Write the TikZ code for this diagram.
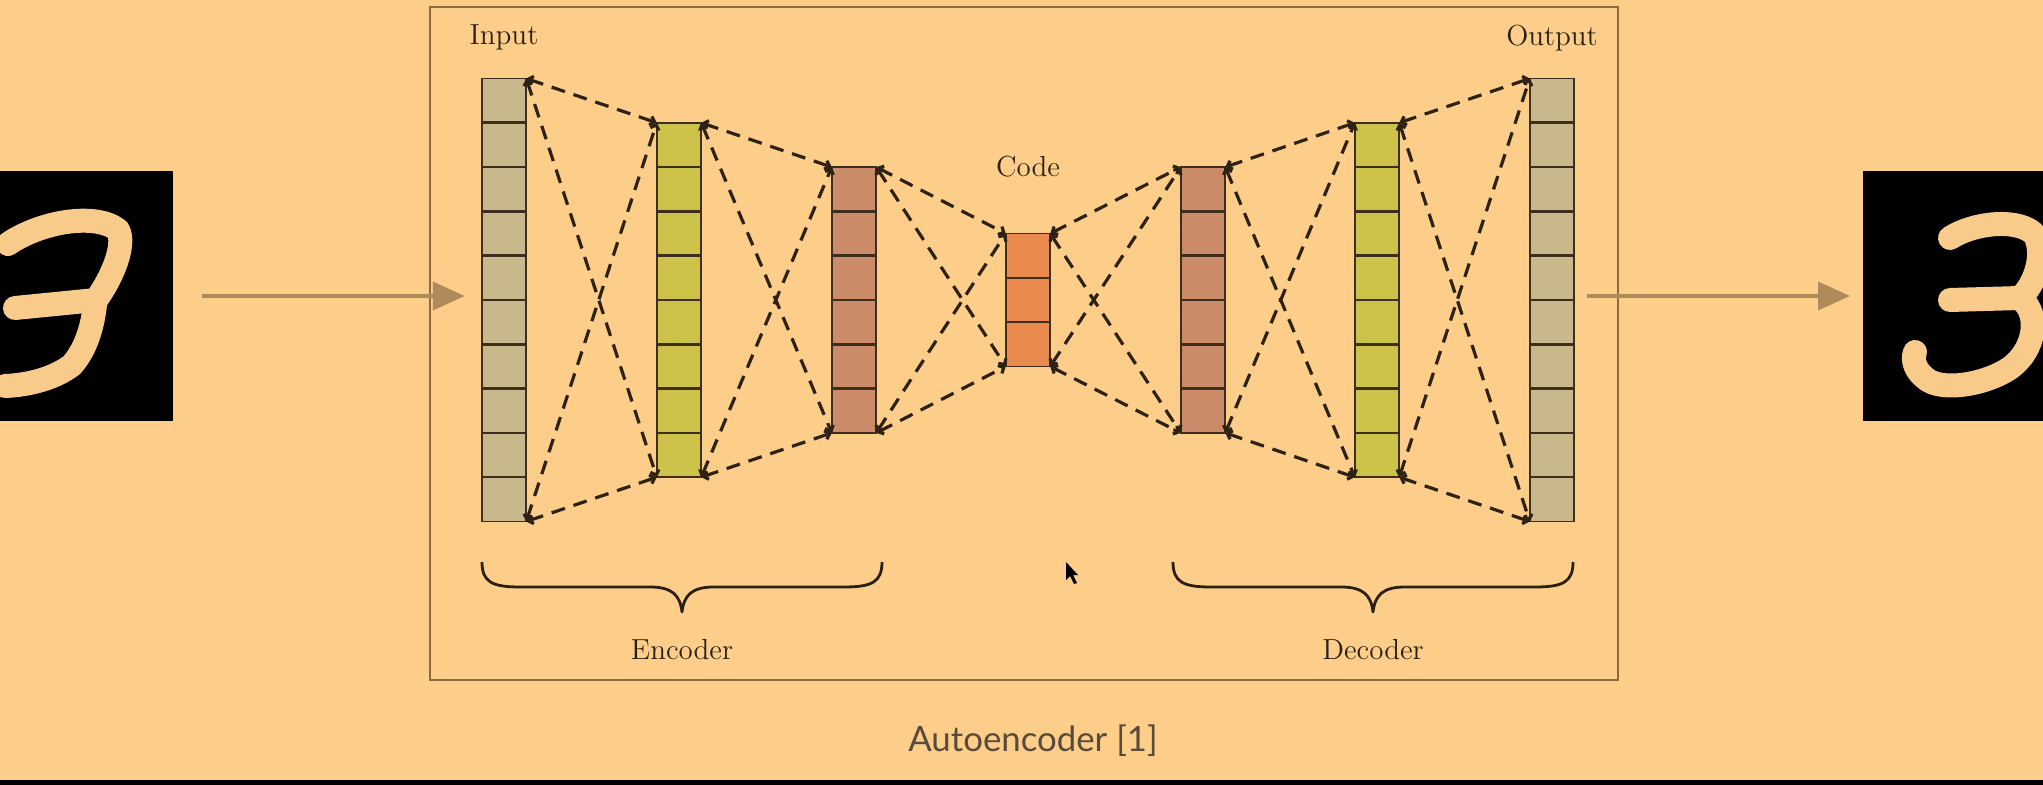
\documentclass[tikz,border=0pt]{standalone}
\usepackage{fontspec}
\newfontfamily\capfont{Lato}
\usetikzlibrary{arrows.meta,calc}
\definecolor{bgpeach}{HTML}{FDCE89}
\definecolor{framecol}{HTML}{8C6B3E}
\definecolor{cellio}{HTML}{C8B88C}
\definecolor{cellgreen}{HTML}{CCC24A}
\definecolor{cellbrown}{HTML}{CC8B68}
\definecolor{cellcode}{HTML}{EB8A4E}
\definecolor{cellline}{HTML}{3E2E1E}
\definecolor{linkcol}{HTML}{2E2216}
\definecolor{textcol}{HTML}{2A2015}
\definecolor{captcol}{HTML}{5A4A3A}
\definecolor{flowcol}{HTML}{B08A5A}
\definecolor{digitcol}{HTML}{F8CB8A}
\begin{document}
\begin{tikzpicture}[x=0.5pt,y=-0.5pt,
  layer/.style={draw=cellline, line width=0.9pt, minimum width=22.25pt,
    inner sep=0pt, outer sep=0pt},
  divider/.style={draw=cellline, line width=1.3pt},
  conn/.style={draw=linkcol, line width=1.6pt, dash pattern=on 7pt off 4.5pt,
    {Straight Barb[length=2.2pt,width=4.5pt]}-{Straight Barb[length=2.2pt,width=4.5pt]}},
  flow/.style={draw=flowcol, line width=2pt, -{Triangle[length=16pt,width=14pt]}},
  imgbox/.style={fill=black, minimum size=125pt, inner sep=0pt, outer sep=0pt},
  digit/.style={draw=digitcol, line width=12pt, line cap=round, line join=round},
  lbl/.style={text=textcol, font=\fontsize{14.5pt}{16pt}\selectfont, inner sep=0pt},
  capt/.style={text=captcol, font=\capfont\fontsize{17.4pt}{20pt}\selectfont, inner sep=0pt},
  bracepath/.style={draw=textcol, line width=1.4pt, line join=round}
]
\useasboundingbox (0,0) rectangle (2043,785);
\clip (0,0) rectangle (2043,785);
\fill[bgpeach] (0,0) rectangle (2043,785);
\fill[black] (0,780) rectangle (2043,785);

% outer frame of the network
\draw[framecol, line width=1pt] (430,7) rectangle (1618,680);

% input and reconstructed digit images
\node[imgbox] (imgL) at (48,296) {};
\node[imgbox] (imgR) at (1988,296) {};
\begin{scope}
  \clip (imgL.north west) rectangle (imgL.south east);
  \draw[digit] (8,244) .. controls (40,222) and (95,212) .. (118,230)
    .. controls (126,245) and (112,278) .. (96,300) -- (15,308);
  \draw[digit] (95,305) .. controls (92,330) and (85,350) .. (72,365)
    .. controls (55,378) and (30,385) .. (5,386);
\end{scope}
\begin{scope}
  \clip (imgR.north west) rectangle (imgR.south east);
  \draw[digit] (1950,238) .. controls (1975,222) and (2020,218) .. (2035,235)
    .. controls (2045,255) and (2035,285) .. (2020,298) -- (1950,300);
  \draw[digit] (2022,300) .. controls (2040,315) and (2035,350) .. (2010,368)
    .. controls (1985,385) and (1940,392) .. (1925,378)
    .. controls (1915,370) and (1912,360) .. (1915,352);
\end{scope}

% layers
\foreach \name/\x/\n/\c in {c1/504/10/cellio, c2/679/8/cellgreen, c3/854/6/cellbrown,
    c4/1028/3/cellcode, c5/1203/6/cellbrown, c6/1377/8/cellgreen, c7/1552/10/cellio}{
  \node[layer, fill=\c, minimum height=\n*22.15pt] (\name) at (\x,300) {};
  \pgfmathtruncatemacro\m{\n-1}
  \foreach \k in {1,...,\m}{
    \draw[divider] ($(\name.north west)!\k/\n!(\name.south west)$)
      -- ($(\name.north east)!\k/\n!(\name.south east)$);
  }
}

% dashed links between neighbouring layers
\foreach \a/\b in {c1/c2, c2/c3, c3/c4, c4/c5, c5/c6, c6/c7}{
  \draw[conn] (\a.north east) -- (\b.north west);
  \draw[conn] (\a.north east) -- (\b.south west);
  \draw[conn] (\a.south east) -- (\b.north west);
  \draw[conn] (\a.south east) -- (\b.south west);
}

% flow arrows
\draw[flow] ([xshift=14.5pt]imgL.east) -- ([xshift=-8.5pt]c1.west |- imgL.east);
\draw[flow] ([xshift=6.5pt]c7.east |- imgR.west) -- ([xshift=-6.5pt]imgR.west);

% labels
\node[lbl, anchor=base] (tin) at (504,45) {Input};
\node[lbl, anchor=base] (tout) at (1552,46) {Output};
\node[lbl, anchor=base] (tcode) at (1028,177) {Code};
\node[lbl, anchor=base] (tenc) at (682,659) {Encoder};
\node[lbl, anchor=base] (tdec) at (1373,659) {Decoder};
\node[capt, anchor=base] (cap) at (1033,751) {Autoencoder [1]};

% braces
\draw[bracepath] (482,562) .. controls (482,582) and (492,587) .. (520,587) -- (650,587)
  .. controls (672,587) and (680,595) .. (682,612)
  .. controls (684,595) and (692,587) .. (714,587) -- (844,587)
  .. controls (872,587) and (882,582) .. (882,562);
\draw[bracepath] (1173,562) .. controls (1173,582) and (1183,587) .. (1211,587) -- (1341,587)
  .. controls (1363,587) and (1371,595) .. (1373,612)
  .. controls (1375,595) and (1383,587) .. (1405,587) -- (1535,587)
  .. controls (1563,587) and (1573,582) .. (1573,562);

% mouse pointer
\fill[black] (1066,562) -- (1066,580) -- (1070,576) -- (1074,584) -- (1077,583)
  -- (1073,575) -- (1078,575) -- cycle;
\end{tikzpicture}
\end{document}
